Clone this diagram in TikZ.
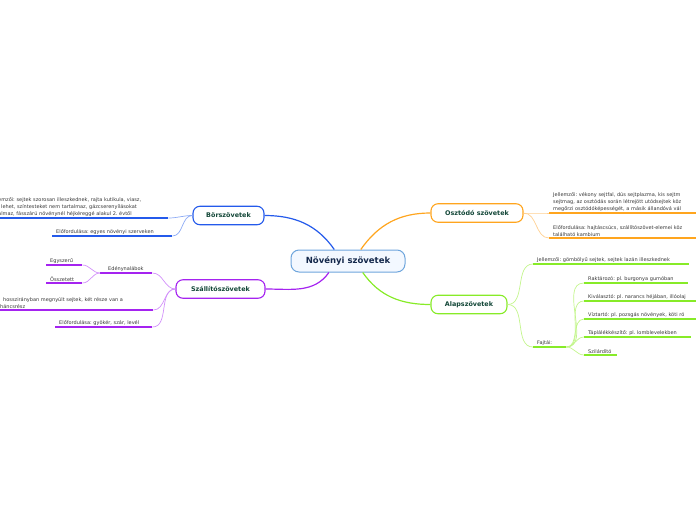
\documentclass[tikz,border=0pt]{standalone}
\usepackage{fontspec}
\setmainfont{DejaVu Sans}
\usetikzlibrary{positioning}
\definecolor{rootline}{RGB}{110,165,220}
\definecolor{rootfill}{RGB}{243,248,255}
\definecolor{roottext}{RGB}{20,40,75}
\definecolor{branchtext}{RGB}{18,70,55}
\definecolor{leaftext}{RGB}{55,55,55}
\definecolor{blueb}{RGB}{36,90,235}
\definecolor{bluec}{RGB}{140,170,245}
\definecolor{orangeb}{RGB}{255,165,30}
\definecolor{orangec}{RGB}{255,208,145}
\definecolor{purpleb}{RGB}{165,35,240}
\definecolor{purplec}{RGB}{210,145,250}
\definecolor{greenb}{RGB}{135,235,40}
\definecolor{greenc}{RGB}{195,245,140}
\newcommand{\leaffont}{\fontsize{5}{7}\selectfont}
\frenchspacing

\begin{document}
\begin{tikzpicture}[
  x=1pt, y=-1pt,
  rootbox/.style={draw=rootline, fill=rootfill, rounded corners=8pt, line width=1pt,
    font=\bfseries\fontsize{8.5}{10}\selectfont, text=roottext,
    minimum height=22pt, minimum width=114pt, inner xsep=8pt},
  branch/.style={fill=white, rounded corners=7pt, line width=1.1pt,
    font=\bfseries\fontsize{6.4}{8}\selectfont, text=branchtext,
    minimum height=18.5pt, inner xsep=9pt},
  leaf/.style={font=\leaffont, text=leaftext, align=left, anchor=south west,
    inner xsep=4pt, inner ysep=1.5pt},
  ul/.style={leaf, append after command={(\tikzlastnode.south west)
    edge[draw=#1, line width=1.8pt] (\tikzlastnode.south east)}},
  trunk/.style={line width=1.2pt},
  twig/.style={line width=0.7pt}
]
\useasboundingbox (0,0) rectangle (696,520);

% root and main branches
\node[rootbox] (nov) at (348,261) {Növényi szövetek};
\node[branch, draw=blueb, minimum width=71pt] (bor) at (228.5,215.5) {Börszövetek};
\node[branch, draw=orangeb, minimum width=92pt] (osz) at (477,213) {Osztódó szövetek};
\node[branch, draw=purpleb, minimum width=89pt] (szall) at (220.5,289) {Szállítószövetek};
\node[branch, draw=greenb, minimum width=76pt] (alap) at (469,304.5) {Alapszövetek};

\draw[trunk, blueb] (nov.140) to[out=125,in=0] (bor.east);
\draw[trunk, orangeb] (nov.42) to[out=55,in=180] (osz.west);
\draw[trunk, purpleb] (nov.211) to[out=235,in=0] (szall.east);
\draw[trunk, greenb] (nov.322) to[out=305,in=180] (alap.west);

% Börszövetek
\node[ul=blueb, text width=166pt] (jb) at (-6,218)
  {emzői: sejtek szorosan illeszkednek, rajta kutikula, viasz,\\
   \hspace*{3pt}lehet, színtesteket nem tartalmaz, gázcserenyílásokat\\
   almaz, fásszárú növénynél héjkéreggé alakul 2. évtől};
\node[ul=blueb, text width=112pt] (eb) at (52,236) {Előfordulása: egyes növényi szerveken};
\draw[twig, bluec] (bor.west) to[out=180,in=0] (jb.south east);
\draw[twig, bluec] (bor.west) to[out=180,in=0] (eb.south east);

% Szállítószövetek
\node[ul=purpleb, text width=44pt] (edeny) at (100,273) {\hspace*{4pt}Edénynalábok};
\node[ul=purpleb, text width=28pt] (egy) at (46,265) {Egyszerű};
\node[ul=purpleb, text width=28pt] (ossz) at (46,283) {Összetett};
\node[ul=purpleb, text width=149pt] (hossz) at (-4,310)
  {\hspace*{3pt}hosszirányban megnyúlt sejtek, két része van a\\
   háncsrész};
\node[ul=purpleb, text width=89pt] (elo) at (55,327) {Előfordulása: gyökér, szár, levél};
\draw[twig, purplec] (szall.west) to[out=180,in=0] (edeny.south east);
\draw[twig, purplec] (szall.west) to[out=180,in=0] (hossz.south east);
\draw[twig, purplec] (szall.west) to[out=180,in=0] (elo.south east);
\draw[twig, purplec] (edeny.south west) to[out=180,in=0] (egy.south east);
\draw[twig, purplec] (edeny.south west) to[out=180,in=0] (ossz.south east);

% Osztódó szövetek
\node[ul=orangeb, text width=200pt] (jo) at (549,213)
  {Jellemzői: vékony sejtfal, dús sejtplazma, kis sejtm\\
   sejtmag, az osztódás során létrejött utódsejtek köz\\
   megőrzi osztódóképességét, a másik állandóvá vál};
\node[ul=orangeb, text width=200pt] (eo) at (549,238)
  {Előfordulása: hajtáscsúcs, szállítószövet-elemei köz\\
   található kambium};
\draw[twig, orangec] (osz.east) to[out=0,in=180] (jo.south west);
\draw[twig, orangec] (osz.east) to[out=0,in=180] (eo.south west);

% Alapszövetek
\node[ul=greenb, text width=148pt] (jg) at (533,264) {Jellemzői: gömbölyű sejtek, sejtek lazán illeszkednek};
\node[ul=greenb, text width=25pt] (faj) at (533,347) {Fajtái:};
\node[ul=greenb, text width=96pt] (rak) at (584,283) {Raktározó: pl. burgonya gumóban};
\node[ul=greenb, text width=150pt] (kiv) at (584,301) {Kiválasztó: pl. narancs héjában, illóolaj};
\node[ul=greenb, text width=150pt] (viz) at (584,319) {Víztartó: pl. pozsgás növények, köti ró};
\node[ul=greenb, text width=99pt] (tap) at (584,337) {Táplálékkészítő: pl. lomblevelekben};
\node[ul=greenb, text width=25pt] (szil) at (584,355) {Szilárdító};
\draw[twig, greenc] (alap.east) to[out=0,in=180] (jg.south west);
\draw[twig, greenc] (alap.east) to[out=0,in=180] (faj.south west);
\foreach \k in {rak,kiv,viz,tap,szil}
  \draw[twig, greenc] (faj.south east) to[out=0,in=180] (\k.south west);
\end{tikzpicture}
\end{document}
